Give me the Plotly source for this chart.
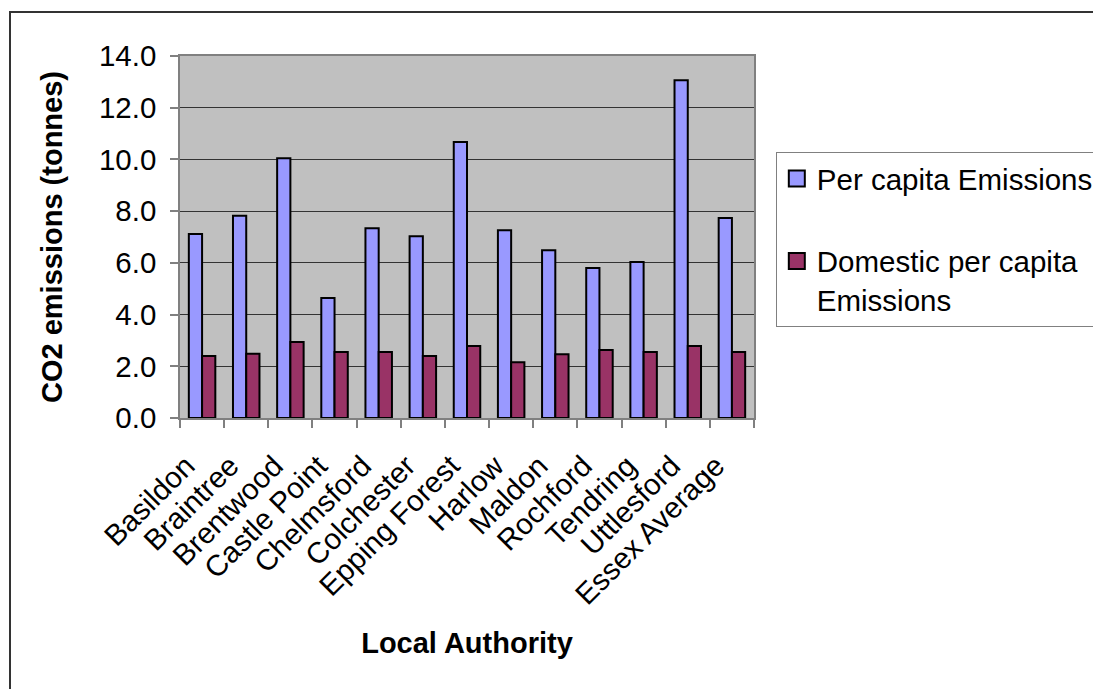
import plotly.graph_objects as go

authorities = ["Basildon", "Braintree", "Brentwood", "Castle Point", "Chelmsford",
               "Colchester", "Epping Forest", "Harlow", "Maldon", "Rochford",
               "Tendring", "Uttlesford", "Essex Average"]
per_capita = [7.12, 7.82, 10.05, 4.64, 7.34, 7.03, 10.67, 7.26, 6.49, 5.80, 6.03, 13.06, 7.73]
domestic = [2.40, 2.48, 2.94, 2.55, 2.55, 2.40, 2.78, 2.16, 2.47, 2.63, 2.55, 2.78, 2.55]
y_ticks = [0, 2, 4, 6, 8, 10, 12, 14]

FONT = "Arial, Liberation Sans, sans-serif"
BLUE = "#9999FF"
PLUM = "#993366"
TXT = 29.5
TITLE = 29

fig = go.Figure()
fig.add_trace(go.Bar(x=authorities, y=per_capita, name="Per capita Emissions",
                     marker=dict(color=BLUE, line=dict(color="black", width=2)),
                     showlegend=False))
fig.add_trace(go.Bar(x=authorities, y=domestic, name="Domestic per capita Emissions",
                     marker=dict(color=PLUM, line=dict(color="black", width=2)),
                     showlegend=False))

# legend-only entries with larger square swatches
fig.add_trace(go.Scatter(x=[None], y=[None], mode="markers", name="Per capita Emissions",
                         legendgroup="a",
                         marker=dict(symbol="square", size=16, color=BLUE,
                                     line=dict(color="black", width=2))))
fig.add_trace(go.Scatter(x=[None], y=[None], mode="markers",
                         name="Domestic per capita<br>Emissions", legendgroup="b",
                         marker=dict(symbol="square", size=16, color=PLUM,
                                     line=dict(color="black", width=2))))

fig.update_layout(
    width=1093, height=689,
    margin=dict(l=180, r=339, t=56, b=271, autoexpand=False),
    paper_bgcolor="white",
    plot_bgcolor="#C0C0C0",
    font=dict(family=FONT, size=TXT, color="black"),
    barmode="group",
    bargap=0.4,
    bargroupgap=0,
    legend=dict(x=1.038, xanchor="left", y=0.735, yanchor="top",
                bordercolor="#808080", borderwidth=1, bgcolor="white",
                font=dict(size=TXT), valign="top", traceorder="grouped",
                tracegroupgap=41),
    xaxis=dict(
        title=dict(text="<b>Local Authority</b>", font=dict(size=TITLE), standoff=23),
        tickangle=-45, ticks="outside", tickson="boundaries", ticklen=8,
        tickcolor="#808080", tickwidth=1.5,
        ticklabelshift=-16, ticklabelstandoff=17,
        showline=True, linecolor="#808080", linewidth=1.5, mirror=True,
        showgrid=False, tickfont=dict(size=TXT),
    ),
    yaxis=dict(
        title=dict(text="<b>CO2 emissions (tonnes)</b>", font=dict(size=TITLE), standoff=28),
        range=[0, 14], tickvals=y_ticks, tickformat=".1f",
        ticks="outside", ticklen=8, tickcolor="#808080", tickwidth=1.5,
        ticklabelstandoff=8,
        showline=True, linecolor="#808080", linewidth=1.5, mirror=True,
        showgrid=True, gridcolor="#333333", gridwidth=1,
        zeroline=False, tickfont=dict(size=TXT),
    ),
    shapes=[dict(type="rect", xref="paper", yref="paper",
                 x0=(10 - 180) / 574, x1=(1120 - 180) / 574,
                 y0=(418 - 720) / 362, y1=(418 - 12) / 362,
                 line=dict(color="#333333", width=2), fillcolor="rgba(0,0,0,0)",
                 layer="below")],
)

fig.write_html("out.html")
